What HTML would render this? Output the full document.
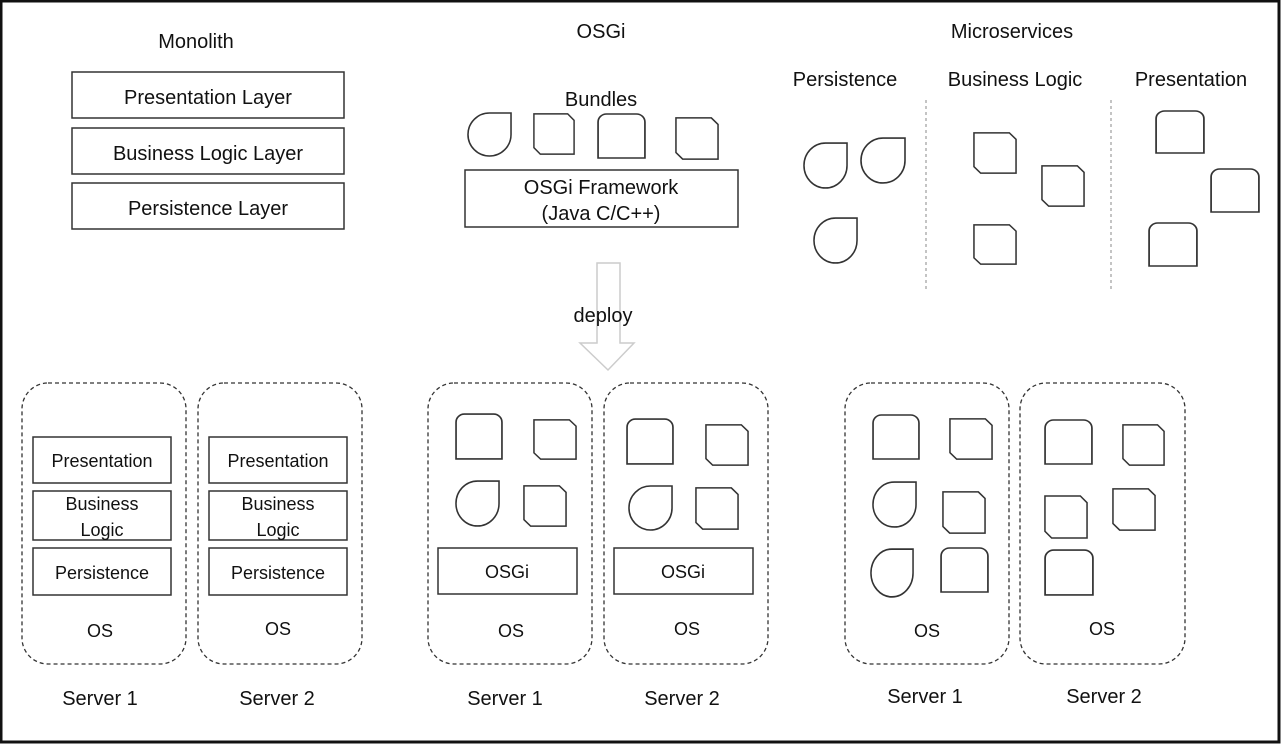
<!DOCTYPE html>
<html><head><meta charset="utf-8"><style>
html,body{margin:0;padding:0;background:#fff;}
svg{display:block;}
text{font-family:"Liberation Sans",sans-serif;fill:#111;text-anchor:middle;}
</style></head><body>
<svg width="1281" height="744" viewBox="0 0 1281 744" xmlns="http://www.w3.org/2000/svg">
<defs>
<symbol id="tear" viewBox="0 0 46 46" overflow="visible" preserveAspectRatio="none"><path d="M23,1 H45 V23 A22,22 0 0 1 23,45 A22,22 0 0 1 1,23 A22,22 0 0 1 23,1 Z" fill="none" stroke="#333" stroke-width="1.6"/></symbol>
<symbol id="cham" viewBox="0 0 46 46" overflow="visible" preserveAspectRatio="none"><path d="M1,1 H38 L45,8 V45 H8 L1,38 Z" fill="none" stroke="#333" stroke-width="1.6"/></symbol>
<symbol id="rnd" viewBox="0 0 46 46" overflow="visible" preserveAspectRatio="none"><path d="M1,45 V9 A8,8 0 0 1 9,1 H37 A8,8 0 0 1 45,9 V45 Z" fill="none" stroke="#333" stroke-width="1.6"/></symbol>
</defs>
<rect x="1" y="1" width="1278" height="741" fill="none" stroke="#111" stroke-width="3"/>
<g font-size="20">
<text x="196" y="48">Monolith</text>
<text x="601" y="38">OSGi</text>
<text x="1012" y="38">Microservices</text>
<text x="845" y="86">Persistence</text>
<text x="1015" y="86">Business Logic</text>
<text x="1191" y="86">Presentation</text>
<text x="601" y="106">Bundles</text>
</g>
<g fill="none" stroke="#333" stroke-width="1.5">
<rect x="72" y="72" width="272" height="46"/>
<rect x="72" y="128" width="272" height="46"/>
<rect x="72" y="183" width="272" height="46"/>
<rect x="465" y="170" width="273" height="57"/>
</g>
<g font-size="20">
<text x="208" y="104">Presentation Layer</text>
<text x="208" y="160">Business Logic Layer</text>
<text x="208" y="215">Persistence Layer</text>
<text x="601" y="194">OSGi Framework</text>
<text x="601" y="220">(Java C/C++)</text>
</g>
<use href="#tear" x="467" y="112" width="45" height="45"/>
<use href="#cham" x="533" y="113" width="42" height="42"/>
<use href="#rnd" x="597" y="113" width="49" height="46"/>
<use href="#cham" x="675" y="117" width="44" height="43"/>
<line x1="926" y1="100" x2="926" y2="290" stroke="#888" stroke-dasharray="3,3"/>
<line x1="1111" y1="100" x2="1111" y2="290" stroke="#888" stroke-dasharray="3,3"/>
<use href="#tear" x="803" y="142" width="45" height="47"/>
<use href="#tear" x="860" y="137" width="46" height="47"/>
<use href="#tear" x="813" y="217" width="45" height="47"/>
<use href="#cham" x="973" y="132" width="44" height="42"/>
<use href="#cham" x="1041" y="165" width="44" height="42"/>
<use href="#cham" x="973" y="224" width="44" height="41"/>
<use href="#rnd" x="1155" y="110" width="50" height="44"/>
<use href="#rnd" x="1210" y="168" width="50" height="45"/>
<use href="#rnd" x="1148" y="222" width="50" height="45"/>
<path d="M597,263 H620 V343 H634 L608,370 L580,343 H597 Z" fill="#fff" stroke="#ccc" stroke-width="1.5"/>
<text x="603" y="322" font-size="20">deploy</text>
<g fill="none" stroke="#333" stroke-width="1.3" stroke-dasharray="4,3">
<rect x="22" y="383" width="164" height="281" rx="26"/>
<rect x="198" y="383" width="164" height="281" rx="26"/>
<rect x="428" y="383" width="164" height="281" rx="26"/>
<rect x="604" y="383" width="164" height="281" rx="26"/>
<rect x="845" y="383" width="164" height="281" rx="26"/>
<rect x="1020" y="383" width="165" height="281" rx="26"/>
</g>
<g fill="none" stroke="#333" stroke-width="1.5">
<rect x="33" y="437" width="138" height="46"/><rect x="33" y="491" width="138" height="49"/><rect x="33" y="548" width="138" height="47"/>
<rect x="209" y="437" width="138" height="46"/><rect x="209" y="491" width="138" height="49"/><rect x="209" y="548" width="138" height="47"/>
<rect x="438" y="548" width="139" height="46"/><rect x="614" y="548" width="139" height="46"/>
</g>
<g font-size="18">
<text x="102" y="467">Presentation</text><text x="102" y="510">Business</text><text x="102" y="536">Logic</text><text x="102" y="579">Persistence</text><text x="100" y="637">OS</text>
<text x="278" y="467">Presentation</text><text x="278" y="510">Business</text><text x="278" y="536">Logic</text><text x="278" y="579">Persistence</text><text x="278" y="635">OS</text>
<text x="507" y="578">OSGi</text><text x="511" y="637">OS</text>
<text x="683" y="578">OSGi</text><text x="687" y="635">OS</text>
<text x="927" y="637">OS</text><text x="1102" y="635">OS</text>
</g>
<g font-size="20">
<text x="100" y="705">Server 1</text><text x="277" y="705">Server 2</text>
<text x="505" y="705">Server 1</text><text x="682" y="705">Server 2</text>
<text x="925" y="703">Server 1</text><text x="1104" y="703">Server 2</text>
</g>
<use href="#rnd" x="455" y="413" width="48" height="47"/>
<use href="#cham" x="533" y="419" width="44" height="41"/>
<use href="#tear" x="455" y="480" width="45" height="47"/>
<use href="#cham" x="523" y="485" width="44" height="42"/>
<use href="#rnd" x="626" y="418" width="48" height="47"/>
<use href="#cham" x="705" y="424" width="44" height="42"/>
<use href="#tear" x="628" y="485" width="45" height="46"/>
<use href="#cham" x="695" y="487" width="44" height="43"/>
<use href="#rnd" x="872" y="414" width="48" height="46"/>
<use href="#cham" x="949" y="418" width="44" height="42"/>
<use href="#tear" x="872" y="481" width="45" height="47"/>
<use href="#cham" x="942" y="491" width="44" height="43"/>
<use href="#tear" x="870" y="548" width="44" height="50"/>
<use href="#rnd" x="940" y="547" width="49" height="46"/>
<use href="#rnd" x="1044" y="419" width="49" height="46"/>
<use href="#cham" x="1122" y="424" width="43" height="42"/>
<use href="#cham" x="1044" y="495" width="44" height="44"/>
<use href="#cham" x="1112" y="488" width="44" height="43"/>
<use href="#rnd" x="1044" y="549" width="50" height="47"/>
</svg>
</body></html>
